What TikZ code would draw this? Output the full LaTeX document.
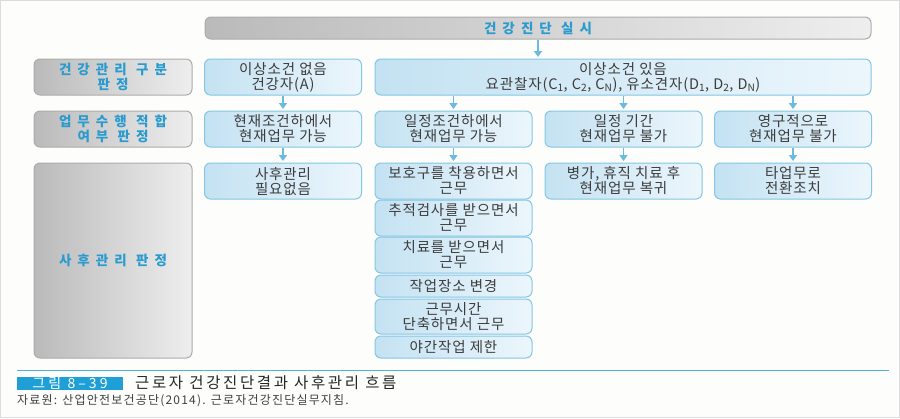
\documentclass[tikz,border=0pt]{standalone}
\usepackage{fontspec}
\setmainfont{Noto Sans CJK KR}
\newfontfamily\spacedfont[LetterSpace=45]{Noto Sans CJK KR}
\newfontfamily\boxfont[LetterSpace=6]{Noto Sans CJK KR}
\newfontfamily\numfont[LetterSpace=22]{Noto Sans CJK KR}
\newfontfamily\titlefont[LetterSpace=17]{Noto Sans CJK KR}
\newfontfamily\notefont[LetterSpace=10]{Noto Sans CJK KR}
\usetikzlibrary{arrows.meta}

\definecolor{FrameGray}{RGB}{220,220,220}
\definecolor{PaperWhite}{RGB}{253,253,251}
\definecolor{StepBlue}{RGB}{42,155,206}
\definecolor{CapBlue}{RGB}{30,160,215}
\definecolor{BoxLine}{RGB}{132,198,228}
\definecolor{BoxDark}{RGB}{196,226,242}
\definecolor{BoxLight}{RGB}{236,246,252}
\definecolor{LabelLine}{RGB}{172,172,172}
\definecolor{LabelDark}{RGB}{186,186,186}
\definecolor{LabelLight}{RGB}{238,238,238}
\definecolor{FlowBlue}{RGB}{108,186,222}
\definecolor{InkGray}{RGB}{60,60,60}

\begin{document}
\begin{tikzpicture}[x=1pt,y=-1pt,
  every node/.style={inner sep=0pt,align=center},
  flowbox/.style={draw=BoxLine,line width=1pt,rounded corners=6pt,
    left color=BoxDark,right color=BoxLight,text=InkGray,
    font=\boxfont\fontsize{14.5}{15}\selectfont,minimum width=157pt,minimum height=36pt},
  judgebox/.style={draw=LabelLine,line width=1pt,rounded corners=6pt,
    left color=LabelDark,right color=LabelLight,text=StepBlue,
    font=\spacedfont\bfseries\fontsize{13.5}{15}\selectfont,
    minimum width=158pt,minimum height=36pt},
  flow/.style={-{Triangle[width=8pt,length=6pt]},FlowBlue,line width=1.6pt,
    shorten >=1.5pt}]
  \useasboundingbox (0,0) rectangle (900,418);
  \fill[PaperWhite,draw=FrameGray] (0.5,0.5) rectangle (899.5,417.5);

  \node[judgebox,minimum width=666pt,minimum height=22pt] (exam) at (538,28) {건강진단 실시};

  \node[judgebox] (classify) at (113,77) {건강관리 구분\\판정};
  \node[judgebox] (fitness) at (113,129) {업무수행 적합\\여부 판정};
  \node[judgebox,minimum height=195pt] (followup) at (113,260.5) {사후관리 판정};

  \node[flowbox] (healthy) at (283,77) {이상소건 없음\\건강자(A)};
  \node[flowbox,minimum width=496pt] (finding) at (623,77)
    {이상소건 있음\\요관찰자(C\textsubscript{1}, C\textsubscript{2}, C\textsubscript{N}), 유소견자(D\textsubscript{1}, D\textsubscript{2}, D\textsubscript{N})};

  \node[flowbox] (nowok) at (283,129) {현재조건하에서\\현재업무 가능};
  \node[flowbox] (condok) at (453.5,129) {일정조건하에서\\현재업무 가능};
  \node[flowbox] (tempno) at (623.5,129) {일정 기간\\현재업무 불가};
  \node[flowbox] (permno) at (793,129) {영구적으로\\현재업무 불가};

  \node[flowbox] (nocare) at (283,181) {사후관리\\필요없음};
  \node[flowbox] (gear) at (453.5,181) {보호구를 착용하면서\\근무};
  \node[flowbox] (tracking) at (453.5,218) {추적검사를 받으면서\\근무};
  \node[flowbox] (treat) at (453.5,255) {치료를 받으면서\\근무};
  \node[flowbox,minimum height=22pt] (relocate) at (453.5,286) {작업장소 변경};
  \node[flowbox,minimum height=35pt] (shorter) at (453.5,316.5) {근무시간\\단축하면서 근무};
  \node[flowbox,minimum height=22pt] (nonight) at (453.5,347) {야간작업 제한};
  \node[flowbox] (sickleave) at (623.5,181) {병가, 휴직 치료 후\\현재업무 복귀};
  \node[flowbox] (transfer) at (793,181) {타업무로\\전환조치};

  \draw[flow] (exam.south) -- (exam.south |- finding.north);
  \draw[flow] (healthy) -- (nowok);
  \foreach \t in {condok,tempno,permno}
    \draw[flow] (finding.south -| \t) -- (\t.north);
  \foreach \a/\b in {nowok/nocare,condok/gear,tempno/sickleave,permno/transfer}
    \draw[flow] (\a) -- (\b);

  \coordinate (capleft) at (17,370);
  \coordinate (capright) at (889,370);
  \draw[CapBlue!80,line width=1pt] (capleft) -- (capright);
  \node[fill=CapBlue,text=white,minimum width=106pt,minimum height=13pt,
    font=\numfont\fontsize{14}{14}\selectfont] (fignum) at (70,383) {그림 8–39};
  \node[anchor=west,text=black!85,font=\titlefont\fontsize{15.5}{16}\selectfont]
    (figtitle) at (135,383) {근로자 건강진단결과 사후관리 흐름};
  \node[anchor=west,text=black!75,font=\notefont\fontsize{12}{13}\selectfont]
    (figsource) at (17,401) {자료원: 산업안전보건공단(2014). 근로자건강진단실무지침.};
\end{tikzpicture}
\end{document}
